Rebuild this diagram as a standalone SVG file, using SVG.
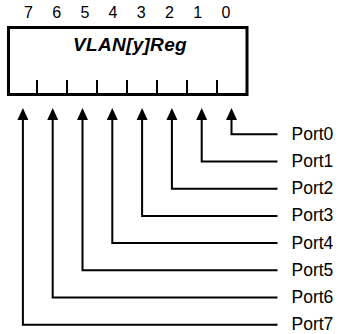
<svg xmlns="http://www.w3.org/2000/svg" width="339" height="334" viewBox="0 0 339 334">
<style>
.t{font-family:"Liberation Sans",Arial,sans-serif;fill:#000}
.bit{font-size:16px;text-anchor:middle}
.lbl{font-size:17.5px}
.title{font-size:19px;font-weight:bold;font-style:italic;text-anchor:middle;letter-spacing:0.3px}
.box{fill:#fff;stroke:#000;stroke-width:3}
.tick{stroke:#000;stroke-width:2}
.wire{fill:none;stroke:#000;stroke-width:2}
</style>
<rect width="339" height="334" fill="#fff"/>
<g id="register">
<rect class="box" x="8.5" y="27.5" width="238.5" height="67"/>
<text class="t title" x="130" y="50.5">VLAN[y]Reg</text>
<g class="tick">
<line x1="37" y1="80" x2="37" y2="94"/>
<line x1="67" y1="80" x2="67" y2="94"/>
<line x1="97" y1="80" x2="97" y2="94"/>
<line x1="127" y1="80" x2="127" y2="94"/>
<line x1="157" y1="80" x2="157" y2="94"/>
<line x1="187" y1="80" x2="187" y2="94"/>
<line x1="217" y1="80" x2="217" y2="94"/>
</g>
<g class="t bit">
<text x="28.5" y="18">7</text>
<text x="56.7" y="18">6</text>
<text x="84.9" y="18">5</text>
<text x="113" y="18">4</text>
<text x="141.3" y="18">3</text>
<text x="169.5" y="18">2</text>
<text x="197.7" y="18">1</text>
<text x="225.9" y="18">0</text>
</g>
</g>
<g id="port0"><text class="t lbl" x="291.5" y="139.8">Port0</text></g>
<g id="port1"><text class="t lbl" x="291.5" y="167">Port1</text></g>
<g id="port2"><text class="t lbl" x="291.5" y="194.2">Port2</text></g>
<g id="port3"><text class="t lbl" x="291.5" y="221.4">Port3</text></g>
<g id="port4"><text class="t lbl" x="291.5" y="248.6">Port4</text></g>
<g id="port5"><text class="t lbl" x="291.5" y="275.8">Port5</text></g>
<g id="port6"><text class="t lbl" x="291.5" y="303">Port6</text></g>
<g id="port7"><text class="t lbl" x="291.5" y="330.2">Port7</text></g>
<g id="connectors">
<g class="wire">
<polyline points="277.5,134.3 231.5,134.3 231.5,119"/>
<polyline points="277.5,161.5 201.7,161.5 201.7,119"/>
<polyline points="277.5,188.7 171.9,188.7 171.9,119"/>
<polyline points="277.5,215.9 142.1,215.9 142.1,119"/>
<polyline points="277.5,243.1 112.3,243.1 112.3,119"/>
<polyline points="277.5,270.3 82.5,270.3 82.5,119"/>
<polyline points="277.5,297.5 52.7,297.5 52.7,119"/>
<polyline points="277.5,324.7 22.9,324.7 22.9,119"/>
</g>
<g fill="#000">
<polygon points="231.5,108 237,120 226,120"/>
<polygon points="201.7,108 207.2,120 196.2,120"/>
<polygon points="171.9,108 177.4,120 166.4,120"/>
<polygon points="142.1,108 147.6,120 136.6,120"/>
<polygon points="112.3,108 117.8,120 106.8,120"/>
<polygon points="82.5,108 88,120 77,120"/>
<polygon points="52.7,108 58.2,120 47.2,120"/>
<polygon points="22.9,108 28.4,120 17.4,120"/>
</g>
</g>
</svg>
